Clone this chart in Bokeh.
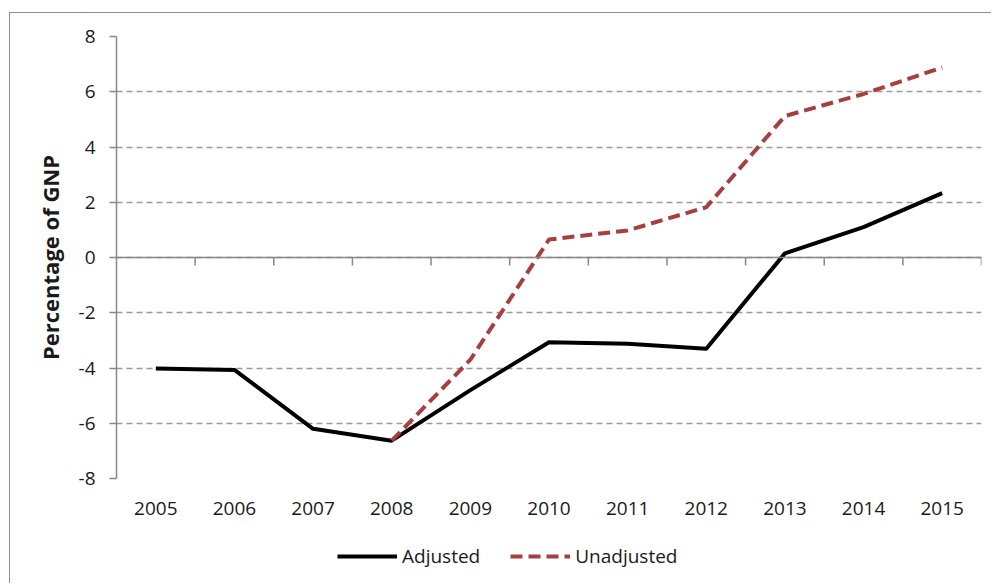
from bokeh.plotting import figure
from bokeh.layouts import column
from bokeh.models import Range1d, FixedTicker, Legend, LegendItem, Span
from bokeh.embed import file_html
from bokeh.resources import INLINE

years = ["2005", "2006", "2007", "2008", "2009", "2010", "2011", "2012", "2013", "2014", "2015"]
adjusted = [-4.02, -4.07, -6.2, -6.63, -4.8, -3.07, -3.12, -3.3, 0.15, 1.1, 2.33]
unadjusted_years = ["2008", "2009", "2010", "2011", "2012", "2013", "2014", "2015"]
unadjusted = [-6.63, -3.7, 0.65, 0.98, 1.82, 5.12, 5.92, 6.88]
y_ticks = [-8, -6, -4, -2, 0, 2, 4, 6, 8]
y_tick_labels = ["-8", "-6", "-4", "-2", "0", "2", "4", "6", "8"]
y_title = "Percentage of GNP"
series_names = ["Adjusted", "Unadjusted"]

FONT = "Open Sans"
TXT = "#1a1a1a"
GRAY = "#888888"
RED = "#A5403E"
ADJ_STYLE = dict(line_color="black", line_width=4, line_join="round")
UN_STYLE = dict(line_color=RED, line_width=4, line_dash="12 6")

x_adj = [years.index(y) for y in years]
x_unadj = [years.index(y) for y in unadjusted_years]

p = figure(width=981, height=520,
           x_range=Range1d(-0.5, len(years) - 0.5), y_range=Range1d(y_ticks[0], y_ticks[-1]),
           output_backend="svg", toolbar_location=None,
           min_border_left=106, min_border_right=10, min_border_top=23, min_border_bottom=55)
p.outline_line_color = None
p.background_fill_color = "white"
p.border_fill_color = "white"

# y axis
p.yaxis.ticker = FixedTicker(ticks=y_ticks)
p.yaxis.major_label_overrides = {t: s for t, s in zip(y_ticks, y_tick_labels)}
p.yaxis.axis_line_color = GRAY
p.yaxis.axis_line_width = 1.5
p.yaxis.major_tick_line_color = GRAY
p.yaxis.major_tick_line_width = 1.5
p.yaxis.major_tick_out = 7
p.yaxis.major_tick_in = 0
p.yaxis.minor_tick_line_color = None
p.yaxis.major_label_text_font = FONT
p.yaxis.major_label_text_font_size = "19px"
p.yaxis.major_label_text_color = TXT
p.yaxis.major_label_standoff = 14
p.yaxis.axis_label = y_title
p.yaxis.axis_label_text_font = FONT
p.yaxis.axis_label_text_font_style = "bold"
p.yaxis.axis_label_text_font_size = "22px"
p.yaxis.axis_label_text_color = TXT
p.yaxis.axis_label_standoff = 11

# x axis (labels only)
p.xaxis.ticker = FixedTicker(ticks=x_adj)
p.xaxis.major_label_overrides = {i: y for i, y in enumerate(years)}
p.xaxis.axis_line_color = None
p.xaxis.major_tick_line_color = None
p.xaxis.minor_tick_line_color = None
p.xaxis.major_label_text_font = FONT
p.xaxis.major_label_text_font_size = "19px"
p.xaxis.major_label_text_color = TXT
p.xaxis.major_label_standoff = 17

# grid
p.xgrid.grid_line_color = None
p.ygrid.ticker = FixedTicker(ticks=y_ticks)
p.ygrid.grid_line_color = "#9a9a9a"
p.ygrid.grid_line_width = 1.5
p.ygrid.grid_line_dash = "6 4"

# zero line with category boundary ticks
p.add_layout(Span(location=0, dimension="width", line_color=GRAY, line_width=1.5))
bounds = [i + 0.5 for i in range(len(years))]
p.segment(x0=bounds, y0=[0] * len(bounds), x1=bounds, y1=[-0.29] * len(bounds),
          line_color=GRAY, line_width=1.5)

p.line(x_adj, adjusted, **ADJ_STYLE)
p.line(x_unadj, unadjusted, **UN_STYLE)

# legend strip below the chart (its frame is aligned with the chart's frame)
lg = figure(width=981, height=50, x_range=Range1d(0, 1), y_range=Range1d(0, 1),
            output_backend="svg", toolbar_location=None,
            x_axis_type=None, y_axis_type=None,
            min_border_left=0, min_border_right=0, min_border_top=0, min_border_bottom=0)
lg.outline_line_color = None
lg.grid.grid_line_color = None
lg.border_fill_color = "white"
lg.background_fill_color = "white"
# legend-only renderers, placed outside the visible range
g_adj = lg.line([5, 6], [5, 6], **ADJ_STYLE)
g_un = lg.line([5, 6], [5, 6], **UN_STYLE)
legend = Legend(items=[LegendItem(label=series_names[0], renderers=[g_adj]),
                       LegendItem(label=series_names[1], renderers=[g_un])],
                orientation="horizontal", location=(221, 14),
                glyph_width=60, glyph_height=20, label_standoff=5, spacing=30,
                padding=0, margin=0, border_line_color=None, background_fill_alpha=0,
                label_text_font=FONT, label_text_font_size="19px", label_text_color=TXT)
lg.add_layout(legend, "center")

layout = column(p, lg, spacing=0)
layout.styles = {"margin-left": "9px", "margin-top": "12px",
                 "border-left": "1px solid #8c8c8c", "border-top": "1px solid #8c8c8c"}

open("out.html", "w").write(file_html(layout, INLINE))
